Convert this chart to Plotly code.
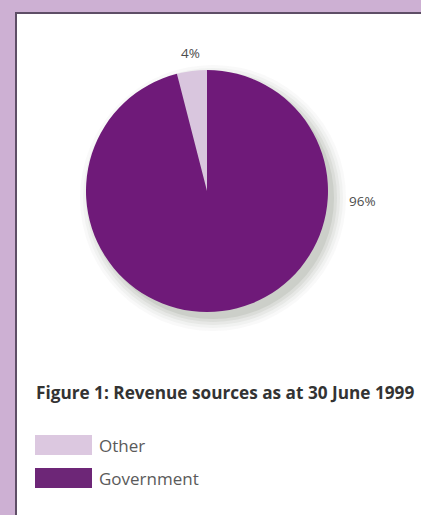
import plotly.graph_objects as go

# Revenue split
categories = ["Other", "Government"]
shares = [4, 96]
slice_colors = ["#d9c6de", "#6f1a79"]
legend_colors = ["#dcc8e0", "#6d2677"]
title_text = "Figure 1: Revenue sources as at 30 June 1999"

W, H = 421, 515
cx, cy, r = 207, 191, 121  # pie centre / radius in pixels (from top-left)


def px(x):
    return x / W


def py(y):
    return 1 - y / H


fig = go.Figure()
fig.add_trace(go.Pie(
    labels=categories,
    values=shares,
    sort=False,
    direction="clockwise",
    rotation=-360 * shares[0] / sum(shares),
    marker=dict(colors=slice_colors, line=dict(width=0)),
    textinfo="none",
    hoverinfo="label+percent",
    showlegend=False,
    domain=dict(x=[px(cx - r), px(cx + r)], y=[py(cy + r), py(cy - r)]),
))

shapes = []
# white card with dark edge
shapes.append(dict(type="rect", xref="paper", yref="paper",
                   x0=px(16), x1=px(440), y0=py(540), y1=py(13),
                   fillcolor="white", line=dict(color="#5e4e66", width=2),
                   layer="below"))
# soft drop shadow under the pie
for grow, op in [(12, 0.04), (9, 0.05), (6, 0.07), (3, 0.09), (0, 0.12)]:
    ox, oy = 6, 7
    shapes.append(dict(type="circle", xref="paper", yref="paper",
                       x0=px(cx - r - grow + ox), x1=px(cx + r + grow + ox),
                       y0=py(cy + r + grow + oy), y1=py(cy - r - grow + oy),
                       fillcolor="#5f6f5a", opacity=op, line=dict(width=0),
                       layer="below"))

annotations = []
label_font = dict(family="Open Sans", size=13.5, color="#4d4d4d")
# slice percentage labels
annotations.append(dict(x=px(190), y=py(53), xref="paper", yref="paper",
                        xanchor="center", yanchor="middle",
                        text=f"{shares[0]}%", showarrow=False, font=label_font))
annotations.append(dict(x=px(362), y=py(201), xref="paper", yref="paper",
                        xanchor="center", yanchor="middle",
                        text=f"{shares[1]}%", showarrow=False, font=label_font))
# caption
annotations.append(dict(x=px(34), y=py(392), xref="paper", yref="paper",
                        xanchor="left", yanchor="middle",
                        text=f"<b>{title_text}</b>", showarrow=False,
                        font=dict(family="Open Sans", size=17.2, color="#333333")))

# legend swatches + labels
legend_rows = [445, 478]
for name, col, yc in zip(categories, legend_colors, legend_rows):
    shapes.append(dict(type="rect", xref="paper", yref="paper",
                       x0=px(35), x1=px(92), y0=py(yc + 10), y1=py(yc - 10),
                       fillcolor=col, line=dict(width=0)))
    annotations.append(dict(x=px(97), y=py(yc), xref="paper", yref="paper",
                            xanchor="left", yanchor="middle",
                            text=name, showarrow=False,
                            font=dict(family="Open Sans", size=17, color="#5a5a5a")))

fig.update_layout(
    width=W, height=H,
    margin=dict(l=0, r=0, t=0, b=0),
    paper_bgcolor="#cdb0d3",
    plot_bgcolor="rgba(0,0,0,0)",
    shapes=shapes,
    annotations=annotations,
)

fig.write_html("out.html")
